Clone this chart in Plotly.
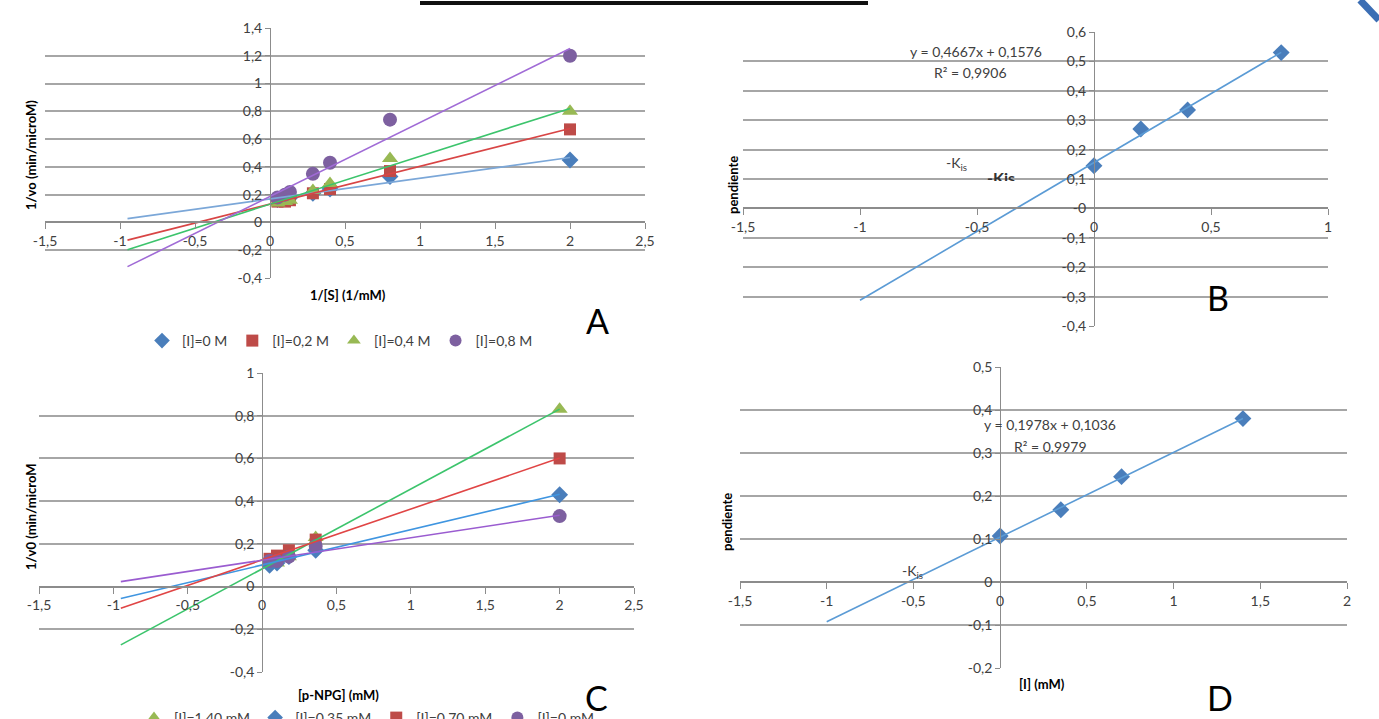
import numpy as np
import plotly.graph_objects as go

W, H = 1379, 719

# ---------------- Panel A data ----------------
a_x = [0.05, 0.1, 0.133, 0.286, 0.4, 0.8, 2.0]
a_names = ["[I]=0 M", "[I]=0,2 M", "[I]=0,4 M", "[I]=0,8 M"]
a_i0 = [0.165, 0.17, 0.18, 0.21, 0.24, 0.33, 0.45]
a_i02 = [0.15, 0.15, 0.16, 0.21, 0.24, 0.37, 0.67]
a_i04 = [0.14, 0.15, 0.16, 0.23, 0.28, 0.46, 0.80]
a_i08 = [0.18, 0.20, 0.22, 0.35, 0.43, 0.74, 1.20]

# ---------------- Panel B data ----------------
b_x = [0.0, 0.2, 0.4, 0.8]
b_y = [0.145, 0.27, 0.335, 0.53]

# ---------------- Panel C data ----------------
c_x = [0.05, 0.1, 0.18, 0.36, 2.0]
c_names = ["[I]=1,40 mM", "[I]=0,35 mM", "[I]=0,70 mM", "[I]=0 mM"]
c_i140 = [0.11, 0.11, 0.14, 0.23, 0.83]
c_i035 = [0.10, 0.11, 0.14, 0.17, 0.43]
c_i070 = [0.13, 0.145, 0.17, 0.22, 0.60]
c_i0 = [0.12, 0.12, 0.14, 0.19, 0.33]

# ---------------- Panel D data ----------------
d_x = [0.0, 0.35, 0.7, 1.4]
d_y = [0.107, 0.168, 0.245, 0.38]

FONT = "Lato, 'Open Sans', sans-serif"
TXT = "#404040"
GRID = "#a6a6a6"
AXL = "#8c8c8c"

fig = go.Figure()


def trend(x, y, back=1.0):
    k, b = np.polyfit(x, y, 1)
    xs = np.array([min(x) - back, max(x)])
    return xs, k * xs + b


def add_series(x, y, name, sym, size, mcol, xa, ya, legend, show=True):
    fig.add_trace(go.Scatter(x=x, y=y, mode="markers", name=name,
                             marker=dict(symbol=sym, size=size, color=mcol),
                             xaxis=xa, yaxis=ya, legend=legend, showlegend=show))


def add_trend(x, y, lcol, xa, ya, back=1.0):
    xs, ys = trend(x, y, back)
    fig.add_trace(go.Scatter(x=xs, y=ys, mode="lines", line=dict(color=lcol, width=1.6),
                             xaxis=xa, yaxis=ya, showlegend=False, hoverinfo="skip"))


MB, MR, MG, MP = "#4a7ebb", "#be4b48", "#98b954", "#7d60a0"

# Panel A
A_series = [(a_i0, a_names[0], "diamond", 13, MB, "#7ba7d8"),
            (a_i02, a_names[1], "square", 12, MR, "#d84545"),
            (a_i04, a_names[2], "triangle-up", 14, MG, "#3cc46c"),
            (a_i08, a_names[3], "circle", 14, MP, "#a06bd6")]
for ys, nm, sym, sz, mc, lc in A_series:
    add_series(a_x, ys, nm, sym, sz, mc, "x", "y", "legend")
for ys, nm, sym, sz, mc, lc in A_series:
    add_trend(a_x, ys, lc, "x", "y")

# Panel B
add_series(b_x, b_y, "pendiente", "diamond", 13, MB, "x2", "y2", "legend", show=False)
add_trend(b_x, b_y, "#5b9bd5", "x2", "y2")

# Panel C
C_series = [(c_i140, c_names[0], "triangle-up", 14, MG, "#3cc46c"),
            (c_i035, c_names[1], "diamond", 13, MB, "#3f95e0"),
            (c_i070, c_names[2], "square", 12, MR, "#e04545"),
            (c_i0, c_names[3], "circle", 14, MP, "#9a5cd0")]
for ys, nm, sym, sz, mc, lc in C_series:
    add_series(c_x, ys, nm, sym, sz, mc, "x3", "y3", "legend2")
for ys, nm, sym, sz, mc, lc in C_series:
    add_trend(c_x, ys, lc, "x3", "y3")

# Panel D
add_series(d_x, d_y, "pendiente", "diamond", 13, MB, "x4", "y4", "legend", show=False)
add_trend(d_x, d_y, "#5b9bd5", "x4", "y4")


def fmt(v):
    return f"{v:g}".replace(".", ",")


PANELS = {}


def axes_pair(n, xpx, ypx, xr, yr, xd, yd):
    xdom = [xpx[0] / W, xpx[1] / W]
    ydom = [1 - ypx[1] / H, 1 - ypx[0] / H]
    PANELS[n] = (xpx, ypx, xr, yr)
    xpos = ydom[0] + (0 - yr[0]) / (yr[1] - yr[0]) * (ydom[1] - ydom[0])
    ypos = xdom[0] + (0 - xr[0]) / (xr[1] - xr[0]) * (xdom[1] - xdom[0])
    xt = list(np.round(np.arange(xr[0], xr[1] + 1e-9, xd), 4))
    yt = list(np.round(np.arange(yr[0], yr[1] + 1e-9, yd), 4))
    sx = "" if n == 1 else str(n)
    xa = dict(domain=xdom, range=xr, anchor="free", position=xpos,
              showgrid=False, zeroline=False, showline=True, linecolor=AXL, linewidth=2,
              ticks="outside", ticklen=6, tickcolor=AXL, tickwidth=1,
              tickvals=xt, ticktext=[fmt(v) for v in xt],
              tickfont=dict(family=FONT, size=14, color=TXT), fixedrange=True)
    ya = dict(domain=ydom, range=yr, anchor="free", position=ypos,
              showgrid=True, gridcolor=GRID, gridwidth=2, zeroline=False,
              showline=True, linecolor=AXL, linewidth=1,
              ticks="outside", ticklen=5, tickcolor=AXL,
              tickvals=yt, ticktext=[fmt(v) for v in yt],
              tickfont=dict(family=FONT, size=14, color=TXT), fixedrange=True)
    fig.update_layout(**{"xaxis" + sx: xa, "yaxis" + sx: ya})


axes_pair(1, (45, 645), (28, 278), [-1.5, 2.5], [-0.4, 1.4], 0.5, 0.2)
axes_pair(2, (743, 1328), (32, 326), [-1.5, 1.0], [-0.4, 0.6], 0.5, 0.1)
axes_pair(3, (39, 634), (373, 672), [-1.5, 2.5], [-0.4, 1.0], 0.5, 0.2)
axes_pair(4, (740, 1347), (367, 668), [-1.5, 2.0], [-0.2, 0.5], 0.5, 0.1)


def px_to_data(n, x, y):
    xpx, ypx, xr, yr = PANELS[n]
    dx = xr[0] + (x - xpx[0]) / (xpx[1] - xpx[0]) * (xr[1] - xr[0])
    dy = yr[1] - (y - ypx[0]) / (ypx[1] - ypx[0]) * (yr[1] - yr[0])
    return dx, dy


def P(x, y):
    return x / W, 1 - y / H


ann = []


def note(x, y, text, size=14, bold=False, angle=0, color=TXT, **kw):
    px, py = P(x, y)
    t = f"<b>{text}</b>" if bold else text
    ann.append(dict(x=px, y=py, xref="paper", yref="paper", text=t, showarrow=False,
                    textangle=angle, xanchor="center", yanchor="middle",
                    font=dict(family=FONT, size=size, color=color), **kw))


# axis titles
note(31, 155, "1/vo (min/microM)", 13, True, -90, "#000")
note(348, 295, "1/[S] (1/mM)", 13, True, 0, "#000")
note(733, 185, "pendiente", 13, True, -90, "#000")
note(31, 517, "1/v0 (min/microM", 13, True, -90, "#000")
note(338, 695, "[p-NPG] (mM)", 13, True, 0, "#000")
note(727, 522, "pendiente", 13, True, -90, "#000")
note(1042, 684, "[I] (mM)", 13, True, 0, "#000")

# panel letters
note(597, 320, "A", 34, False, 0, "#000")
note(1218, 297, "B", 34, False, 0, "#000")
note(596, 697, "C", 34, False, 0, "#000")
note(1220, 697, "D", 34, False, 0, "#000")

# trendline equations
note(976, 52, "y = 0,4667x + 0,1576", 14)
note(970, 72, "R² = 0,9906", 14)
note(1050, 424, "y = 0,1978x + 0,1036", 14)
note(1050, 446, "R² = 0,9979", 14)

# -Kis labels
note(956, 163, "-K<sub>is</sub>", 14)
note(912, 571, "-K<sub>is</sub>", 14)

# partially hidden "-Kis" text box in panel B (drawn as trace text, lower half masked)
kx, ky = px_to_data(2, 1001, 180)
fig.add_trace(go.Scatter(x=[kx], y=[ky], mode="text", text=["<b>-Kis</b>"],
                         textfont=dict(family=FONT, size=16, color="#333"),
                         xaxis="x2", yaxis="y2", showlegend=False, hoverinfo="skip"))

shapes = [
    dict(type="line", xref="paper", yref="paper", x0=420 / W, x1=868 / W,
         y0=1 - 3 / H, y1=1 - 3 / H, line=dict(color="#111", width=4)),
    dict(type="line", xref="paper", yref="paper", x0=1360 / W, x1=1379 / W,
         y0=1.0, y1=1 - 20 / H, line=dict(color="#3c6eb4", width=7)),
    dict(type="rect", xref="paper", yref="paper", layer="above",
         x0=978 / W, x1=1028 / W, y0=1 - 196 / H, y1=1 - 181 / H,
         fillcolor="white", line=dict(width=0)),
]

fig.update_layout(
    width=W, height=H,
    margin=dict(l=0, r=0, t=0, b=0, autoexpand=False),
    paper_bgcolor="white", plot_bgcolor="rgba(0,0,0,0)",
    separators=",.",
    annotations=ann, shapes=shapes,
    legend=dict(orientation="h", x=340 / W, y=1 - 341 / H, xanchor="center", yanchor="middle",
                font=dict(family=FONT, size=14, color=TXT), itemsizing="constant",
                bgcolor="rgba(0,0,0,0)", tracegroupgap=0),
    legend2=dict(orientation="h", x=367 / W, y=1 - 718 / H, xanchor="center", yanchor="middle",
                 font=dict(family=FONT, size=14, color=TXT), itemsizing="constant",
                 bgcolor="rgba(0,0,0,0)"),
    hovermode=False,
)

fig.write_html("out.html", config={"displayModeBar": False},
               post_script="document.body.style.margin='0';document.body.style.overflow='hidden';")
